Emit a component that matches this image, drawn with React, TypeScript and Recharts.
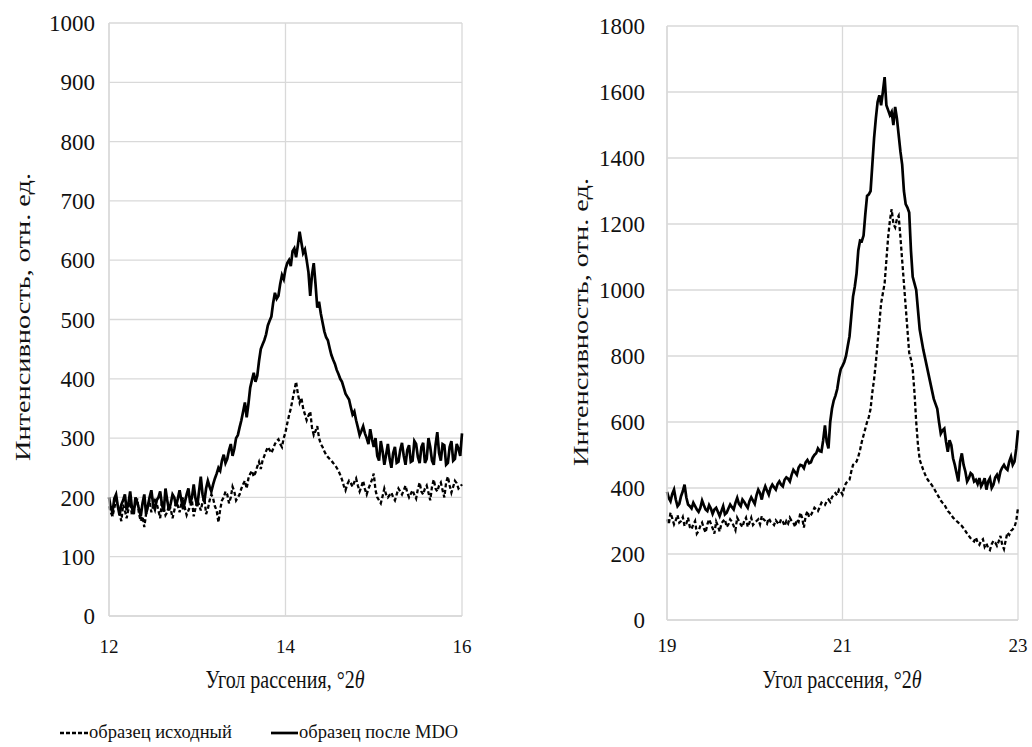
import { LineChart, Line, XAxis, YAxis, CartesianGrid } from "recharts";

const FONT = '"Liberation Serif", "Times New Roman", serif';
const GRID = "#d9d9d9";
const INK = "#111";

// scan grid: 201 points per panel, 0.02° apart
const leftStart = 12;
const rightStart = 19;
const step = 0.02;

// 12–16 °2θ
const leftInitial = [
  185, 175, 168, 182, 195, 188, 172, 160, 188, 178, 165, 180, 192, 170, 178, 190, 198, 172, 160, 168,
  150, 172, 185, 195, 175, 185, 200, 190, 178, 165, 195, 182, 170, 175, 188, 180, 165, 178, 192, 186,
  175, 190, 200, 182, 170, 178, 185, 195, 168, 182, 195, 188, 178, 192, 200, 172, 180, 195, 205, 198,
  185, 178, 158, 180, 195, 200, 210, 205, 190, 200, 218, 210, 195, 200, 205, 215, 222, 228, 215, 232,
  240, 245, 235, 242, 252, 260, 248, 262, 270, 278, 285, 280, 275, 282, 290, 295, 298, 290, 285, 300,
  310, 325, 338, 350, 365, 380, 395, 375, 360, 368, 350, 340, 330, 338, 345, 318, 305, 312, 320, 300,
  290, 285, 278, 272, 268, 265, 262, 258, 255, 250, 245, 238, 230, 220, 212, 222, 228, 224, 218, 226,
  232, 220, 210, 218, 228, 214, 205, 215, 222, 230, 240, 212, 200, 195, 190, 202, 215, 205, 200, 204,
  208, 200, 195, 205, 215, 210, 205, 212, 220, 208, 200, 206, 212, 204, 198, 214, 225, 210, 205, 215,
  220, 208, 195, 218, 230, 215, 210, 220, 225, 212, 200, 225, 235, 220, 208, 218, 228, 224, 215, 218,
  222,
];
const leftMdo = [
  200, 182, 175, 198, 205, 185, 170, 188, 195, 205, 178, 190, 210, 182, 172, 200, 192, 180, 168, 190,
  205, 172, 185, 200, 212, 188, 180, 195, 200, 210, 188, 176, 215, 195, 178, 190, 205, 200, 185, 198,
  212, 195, 180, 192, 205, 215, 190, 200, 222, 198, 185, 210, 235, 205, 192, 215, 228, 218, 210, 222,
  232, 240, 250, 245, 262, 272, 258, 265, 280, 290, 270, 282, 300, 305, 318, 330, 345, 360, 335, 358,
  385, 398, 410, 395, 405, 430, 450, 458, 465, 475, 490, 498, 505, 528, 545, 535, 540, 560, 575, 568,
  585, 595, 600, 590, 615, 620, 605, 625, 648, 630, 612, 618, 600, 580, 540, 575, 595, 560, 520, 530,
  510, 495, 480, 470, 465, 452, 440, 432, 425, 415, 408, 400, 395, 385, 375, 370, 365, 352, 340, 345,
  330, 318, 305, 312, 320, 308, 300, 290, 315, 298, 285, 300, 270, 262, 295, 278, 255, 272, 290, 265,
  250, 275, 285, 258, 260, 280, 292, 270, 255, 280, 288, 260, 262, 295, 290, 268, 258, 285, 292, 258,
  265, 300, 285, 262, 255, 288, 310, 275, 262, 290, 288, 255, 258, 285, 295, 262, 265, 290, 282, 270,
  308,
];

// 19–23 °2θ
const rightInitial = [
  305, 290, 325, 308, 290, 302, 318, 295, 300, 312, 285, 292, 310, 282, 275, 290, 300, 262, 270, 285,
  295, 278, 265, 290, 305, 292, 278, 262, 298, 285, 268, 292, 300, 305, 282, 290, 305, 298, 285, 272,
  310, 300, 290, 282, 300, 310, 282, 295, 310, 288, 295, 300, 305, 290, 315, 305, 300, 292, 308, 298,
  295, 288, 302, 295, 290, 305, 298, 285, 300, 292, 310, 300, 295, 282, 305, 298, 325, 310, 280, 315,
  330, 312, 318, 328, 340, 335, 330, 342, 355, 350, 348, 360, 365, 358, 372, 380, 385, 378, 395, 390,
  380, 402, 415, 420, 425, 450, 470, 475, 480, 495, 515, 540, 560, 580, 600, 615, 640, 690, 730, 780,
  840, 900, 960, 990, 1020, 1090, 1160, 1210, 1245, 1200, 1190, 1215, 1225, 1160, 1090, 1020, 950, 880, 810, 790,
  760, 690, 600, 530, 485, 470, 455, 442, 430, 422, 415, 408, 400, 390, 380, 372, 362, 355, 350, 340,
  330, 325, 318, 310, 305, 300, 295, 290, 285, 278, 270, 262, 255, 248, 242, 238, 250, 235, 228, 240,
  245, 222, 232, 218, 212, 230, 240, 235, 225, 238, 255, 228, 215, 242, 265, 258, 270, 275, 282, 300,
  340,
];
const rightMdo = [
  388, 370, 360, 382, 395, 365, 345, 352, 375, 390, 410, 372, 350, 345, 338, 355, 345, 335, 328, 340,
  362, 348, 335, 330, 348, 338, 322, 335, 340, 328, 315, 330, 345, 320, 325, 338, 350, 342, 335, 355,
  370, 352, 345, 365, 358, 348, 340, 360, 372, 362, 352, 378, 395, 385, 365, 390, 405, 392, 380, 400,
  410, 402, 395, 412, 420, 410, 405, 425, 432, 428, 420, 440, 455, 448, 440, 462, 470, 468, 460, 478,
  485, 475, 478, 492, 500, 505, 520, 512, 510, 545, 590, 540, 520, 600, 640, 665, 680, 700, 735, 760,
  770, 782, 800, 830, 860, 920, 980, 1010, 1050, 1120, 1150, 1148, 1165, 1230, 1285, 1290, 1300, 1380, 1460, 1520,
  1570, 1590, 1560, 1600, 1645, 1560, 1545, 1530, 1540, 1500, 1555, 1520, 1470, 1420, 1380, 1300, 1260, 1250, 1235, 1120,
  1040, 1020, 1000, 940, 880, 850, 820, 795, 770, 745, 720, 695, 670, 655, 640, 600, 565, 575, 580, 540,
  510, 545, 530, 490, 470, 445, 420, 480, 505, 470, 450, 420, 430, 445, 440, 420, 425, 412, 430, 405,
  415, 430, 395, 420, 430, 400, 410, 432, 440, 425, 450, 462, 470, 460, 455, 480, 495, 470, 480, 520,
  575,
];

const leftTicksX = [12, 14, 16];
const rightTicksX = [19, 21, 23];
const leftTicksY = [0, 100, 200, 300, 400, 500, 600, 700, 800, 900, 1000];
const rightTicksY = [0, 200, 400, 600, 800, 1000, 1200, 1400, 1600, 1800];

const xTitle = "Угол рассения, °2";
const xTitleSymbol = "θ";
const yTitle = "Интенсивность, отн. ед.";
const nameInitial = "образец исходный";
const nameMdo = "образец после MDO";

function buildRows(start: number, initial: number[], mdo: number[]) {
  return initial.map((v, i) => ({
    angle: +(start + i * step).toFixed(2),
    initial: v,
    mdo: mdo[i],
  }));
}

function XTick({ x, y, payload }: any) {
  return (
    <text x={x} y={y} dy="0.71em" textAnchor="middle" fontFamily={FONT} fontSize={19} fill={INK}>
      {payload.value}
    </text>
  );
}

function YTick({ x, y, payload }: any) {
  return (
    <text x={x} y={y} dy="0.355em" textAnchor="end" fontFamily={FONT} fontSize={23} fill={INK}>
      {payload.value}
    </text>
  );
}

interface PanelProps {
  left: number;
  width: number;
  top: number;
  right: number;
  yAxisWidth: number;
  xAxisHeight: number;
  yTickMargin: number;
  xTickMargin: number;
  start: number;
  initial: number[];
  mdo: number[];
  ticksX: number[];
  ticksY: number[];
}

function Panel(p: PanelProps) {
  const rows = buildRows(p.start, p.initial, p.mdo);
  const yMax = p.ticksY[p.ticksY.length - 1];
  return (
    <div style={{ position: "absolute", left: p.left, top: 0 }}>
      <LineChart
        width={p.width}
        height={700}
        data={rows}
        margin={{ top: p.top, right: p.right, bottom: 0, left: 0 }}
      >
        <CartesianGrid stroke={GRID} strokeWidth={1.3} />
        <XAxis
          dataKey="angle"
          type="number"
          domain={[p.ticksX[0], p.ticksX[p.ticksX.length - 1]]}
          ticks={p.ticksX}
          height={p.xAxisHeight}
          tickLine={false}
          tickMargin={p.xTickMargin}
          axisLine={{ stroke: GRID, strokeWidth: 1.3 }}
          tick={<XTick />}
        />
        <YAxis
          type="number"
          domain={[0, yMax]}
          ticks={p.ticksY}
          width={p.yAxisWidth}
          tickLine={false}
          tickMargin={p.yTickMargin}
          axisLine={{ stroke: GRID, strokeWidth: 1.3 }}
          tick={<YTick />}
        />
        <Line
          type="linear"
          dataKey="initial"
          name={nameInitial}
          stroke="#000"
          strokeWidth={2.3}
          strokeDasharray="4 2.5"
          dot={false}
          isAnimationActive={false}
        />
        <Line
          type="linear"
          dataKey="mdo"
          name={nameMdo}
          stroke="#000"
          strokeWidth={2.7}
          dot={false}
          isAnimationActive={false}
        />
      </LineChart>
    </div>
  );
}

// axis titles and the shared legend, drawn over both panels
function Titles() {
  const xTitles = [285, 842];
  const yTitles = [
    { x: 22, y: 317 },
    { x: 580, y: 322 },
  ];
  return (
    <svg
      width={1032}
      height={747}
      style={{ position: "absolute", left: 0, top: 0, pointerEvents: "none" }}
      fontFamily={FONT}
      fill={INK}
    >
      {xTitles.map((cx) => (
        <text
          key={cx}
          x={0}
          y={0}
          textAnchor="middle"
          fontSize={20}
          transform={`translate(${cx} 688) scale(1 1.22)`}
        >
          {xTitle}
          <tspan fontStyle="italic">{xTitleSymbol}</tspan>
        </text>
      ))}
      {yTitles.map((t) => (
        <text
          key={t.x}
          x={t.x}
          y={t.y}
          textAnchor="middle"
          dominantBaseline="central"
          fontSize={22}
          textLength={288}
          lengthAdjust="spacingAndGlyphs"
          transform={`rotate(-90 ${t.x} ${t.y})`}
        >
          {yTitle}
        </text>
      ))}
      <line x1={60} y1={733} x2={88} y2={733} stroke="#000" strokeWidth={2.3} strokeDasharray="4 2" />
      <text x={89} y={738} fontSize={18.5}>
        {nameInitial}
      </text>
      <line x1={271} y1={733} x2={298} y2={733} stroke="#000" strokeWidth={2.7} />
      <text x={299} y={738} fontSize={18.5}>
        {nameMdo}
      </text>
    </svg>
  );
}

export default function App() {
  return (
    <div
      style={{
        position: "absolute",
        left: 0,
        top: 0,
        width: 1032,
        height: 747,
        background: "#fff",
        overflow: "hidden",
      }}
    >
      <Panel
        left={0}
        width={480}
        top={23}
        right={18}
        yAxisWidth={109}
        xAxisHeight={84}
        yTickMargin={8}
        xTickMargin={18}
        start={leftStart}
        initial={leftInitial}
        mdo={leftMdo}
        ticksX={leftTicksX}
        ticksY={leftTicksY}
      />
      <Panel
        left={555}
        width={477}
        top={26}
        right={14}
        yAxisWidth={112}
        xAxisHeight={80}
        yTickMargin={16}
        xTickMargin={13}
        start={rightStart}
        initial={rightInitial}
        mdo={rightMdo}
        ticksX={rightTicksX}
        ticksY={rightTicksY}
      />
      <Titles />
    </div>
  );
}
